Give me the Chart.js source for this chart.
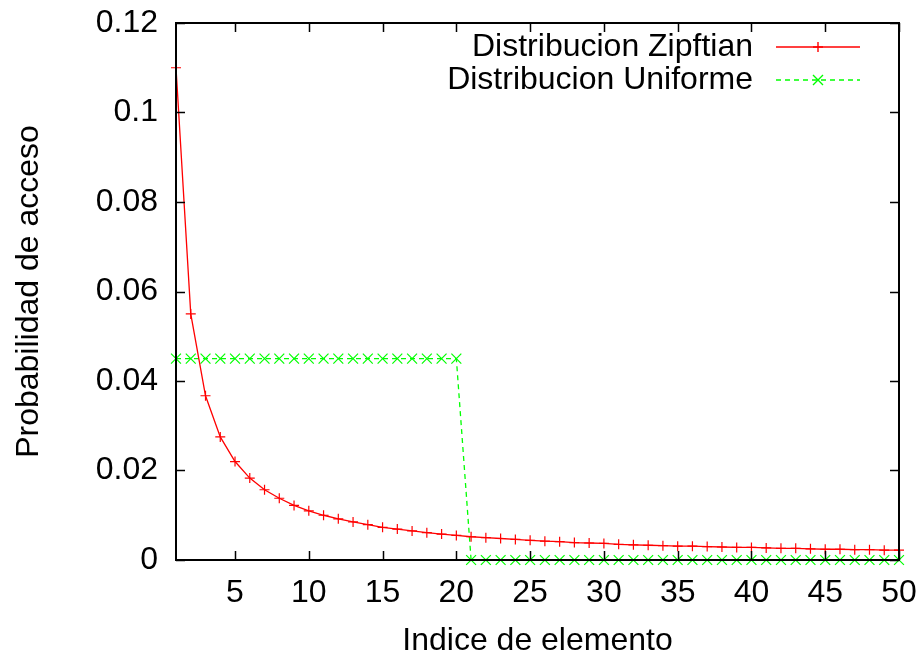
<!DOCTYPE html>
<html>
<head>
<meta charset="utf-8">
<script src="https://cdn.jsdelivr.net/npm/chart.js@4"></script>
<style>
    html, body { margin: 0; padding: 0; background: #fff; }
    #wrap { width: 923px; height: 655px; }
</style>
</head>
<body>
<div id="wrap"><canvas id="chart" width="923" height="655"></canvas></div>
<script>
// Data
const indices = [1,2,3,4,5,6,7,8,9,10,11,12,13,14,15,16,17,18,19,20,21,22,23,24,25,26,27,28,29,30,31,32,33,34,35,36,37,38,39,40,41,42,43,44,45,46,47,48,49,50];
const zipfValues = [0.11,0.055,0.0367,0.0275,0.022,0.0183,0.0157,0.0138,0.0122,0.011,0.01,0.0092,0.0085,0.0079,0.0073,0.0069,0.0065,0.0061,0.0058,0.0055,0.0052,0.005,0.0048,0.0046,0.0044,0.0042,0.0041,0.0039,0.0038,0.0037,0.0035,0.0034,0.0033,0.0032,0.0031,0.0031,0.003,0.0029,0.0028,0.0028,0.0027,0.0026,0.0026,0.0025,0.0024,0.0024,0.0023,0.0023,0.0022,0.0022];
const uniformValues = [0.045,0.045,0.045,0.045,0.045,0.045,0.045,0.045,0.045,0.045,0.045,0.045,0.045,0.045,0.045,0.045,0.045,0.045,0.045,0.045,0,0,0,0,0,0,0,0,0,0,0,0,0,0,0,0,0,0,0,0,0,0,0,0,0,0,0,0,0,0];
const xTickValues = [5,10,15,20,25,30,35,40,45,50];
const yTickValues = [0,0.02,0.04,0.06,0.08,0.1,0.12];
const seriesLabels = ['Distribucion Zipftian', 'Distribucion Uniforme'];
const seriesColors = ['#ff0000', '#00ff00'];

const FONT = 'Liberation Sans, Arial, Helvetica, sans-serif';
const FONT_SIZE = 32;

function toPoints(values) {
    return indices.map((x, i) => ({ x: x, y: values[i] }));
}

// Frame with inward ticks, gnuplot style
const framePlugin = {
    id: 'frame',
    afterDatasetsDraw(chart) {
        const ctx = chart.ctx;
        const a = chart.chartArea;
        const xs = chart.scales.x;
        const ys = chart.scales.y;
        const len = 9;
        ctx.save();
        ctx.strokeStyle = '#000';
        ctx.lineWidth = 1.5;
        ctx.beginPath();
        xTickValues.forEach(v => {
            const px = Math.round(xs.getPixelForValue(v)) + 0.5;
            ctx.moveTo(px, a.bottom); ctx.lineTo(px, a.bottom - len);
            ctx.moveTo(px, a.top); ctx.lineTo(px, a.top + len);
        });
        yTickValues.forEach(v => {
            const py = Math.round(ys.getPixelForValue(v)) + 0.5;
            ctx.moveTo(a.left, py); ctx.lineTo(a.left + len, py);
            ctx.moveTo(a.right, py); ctx.lineTo(a.right - len, py);
        });
        ctx.stroke();
        ctx.lineWidth = 2;
        ctx.strokeRect(a.left, a.top, a.right - a.left, a.bottom - a.top);
        ctx.restore();
    }
};

// Legend in the top right corner, text right-aligned before the sample
const legendPlugin = {
    id: 'gpLegend',
    afterDraw(chart) {
        const ctx = chart.ctx;
        const textRight = 753;
        const lineStart = 776, lineEnd = 860, rows = [47, 80];
        seriesLabels.forEach((label, i) => {
            const y = rows[i];
            ctx.save();
            ctx.font = FONT_SIZE + 'px ' + FONT;
            ctx.textAlign = 'right';
            ctx.textBaseline = 'middle';
            ctx.fillStyle = '#000';
            ctx.fillText(label, textRight, y);
            ctx.strokeStyle = seriesColors[i];
            ctx.lineWidth = 1.4;
            ctx.setLineDash(i === 1 ? [5, 4] : []);
            ctx.beginPath();
            ctx.moveTo(lineStart, y);
            ctx.lineTo(lineEnd, y);
            ctx.stroke();
            ctx.setLineDash([]);
            const mx = (lineStart + lineEnd) / 2, r = 5;
            ctx.beginPath();
            if (i === 0) {
                ctx.moveTo(mx - r, y); ctx.lineTo(mx + r, y);
                ctx.moveTo(mx, y - r); ctx.lineTo(mx, y + r);
            } else {
                ctx.moveTo(mx - r, y - r); ctx.lineTo(mx + r, y + r);
                ctx.moveTo(mx - r, y + r); ctx.lineTo(mx + r, y - r);
            }
            ctx.stroke();
            ctx.restore();
        });
    }
};

new Chart(document.getElementById('chart'), {
    type: 'line',
    data: {
        datasets: [
            {
                label: seriesLabels[0],
                data: toPoints(zipfValues),
                borderColor: seriesColors[0],
                borderWidth: 1.3,
                pointStyle: 'cross',
                pointRadius: 5,
                pointBorderWidth: 1.2,
                pointBorderColor: seriesColors[0],
                tension: 0,
                clip: false
            },
            {
                label: seriesLabels[1],
                data: toPoints(uniformValues),
                borderColor: seriesColors[1],
                borderWidth: 1.3,
                borderDash: [5, 4],
                pointStyle: 'crossRot',
                pointRadius: 7,
                pointBorderWidth: 1.2,
                pointBorderColor: seriesColors[1],
                tension: 0,
                clip: false
            }
        ]
    },
    options: {
        responsive: false,
        animation: false,
        events: [],
        layout: { padding: { top: 23, right: 24, left: 0, bottom: 0 } },
        plugins: {
            legend: { display: false },
            tooltip: { enabled: false }
        },
        scales: {
            x: {
                type: 'linear',
                min: 1,
                max: 50,
                afterBuildTicks: scale => { scale.ticks = xTickValues.map(v => ({ value: v })); },
                afterFit: scale => {
                    scale.height = 95;
                    scale.paddingLeft = 0;
                    scale.paddingRight = 0;
                },
                grid: { display: false, drawTicks: false },
                border: { display: false },
                ticks: {
                    color: '#000',
                    font: { family: FONT, size: FONT_SIZE },
                    padding: 14,
                    maxRotation: 0,
                    autoSkip: false
                },
                title: {
                    display: true,
                    text: 'Indice de elemento',
                    color: '#000',
                    font: { family: FONT, size: FONT_SIZE },
                    padding: { top: 0, bottom: -5 }
                }
            },
            y: {
                type: 'linear',
                min: 0,
                max: 0.12,
                afterBuildTicks: scale => { scale.ticks = yTickValues.map(v => ({ value: v })); },
                afterFit: scale => {
                    scale.width = 176;
                    scale.paddingTop = 0;
                    scale.paddingBottom = 0;
                },
                grid: { display: false, drawTicks: false },
                border: { display: false },
                ticks: {
                    color: '#000',
                    font: { family: FONT, size: FONT_SIZE },
                    padding: 18,
                    callback: v => String(Number(v.toFixed(2)))
                },
                title: {
                    display: true,
                    text: 'Probabilidad de acceso',
                    color: '#000',
                    font: { family: FONT, size: FONT_SIZE },
                    padding: { top: 10, bottom: 0 }
                }
            }
        }
    },
    plugins: [framePlugin, legendPlugin]
});
</script>
</body>
</html>
